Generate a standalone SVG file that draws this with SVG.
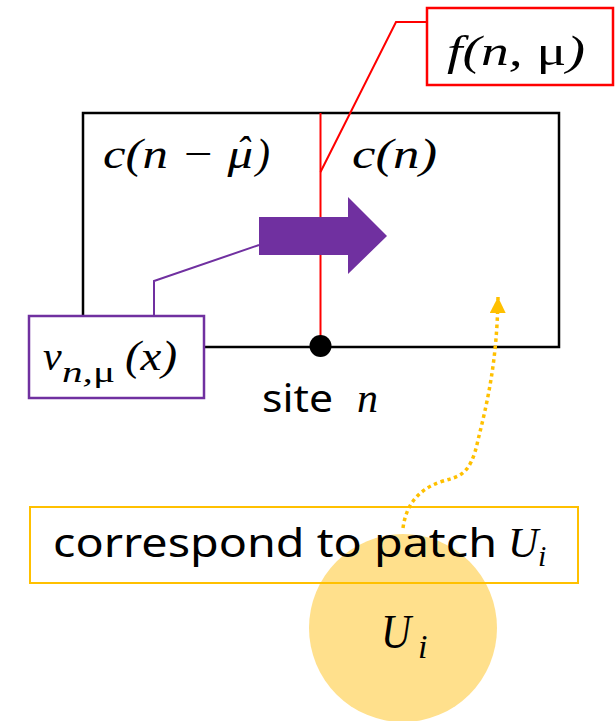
<svg xmlns="http://www.w3.org/2000/svg" width="616" height="721" viewBox="0 0 616 721">
<style>
.m{font-family:"Liberation Serif","DejaVu Serif",serif;font-style:italic;fill:#000}
.u{font-style:normal}
.s{font-family:"Noto Sans","Liberation Sans",sans-serif;fill:#000}
</style>
<defs>
<marker id="ah" viewBox="0 0 10 10" refX="10" refY="5" markerWidth="16" markerHeight="16" markerUnits="userSpaceOnUse" orient="auto">
<path d="M0,0 L10,5 L0,10 Z" fill="#FFC000"/>
</marker>
</defs>
<circle id="patch" cx="403" cy="628" r="94" fill="#FFE08C"/>
<g id="cell">
<rect x="83" y="113" width="476" height="234" fill="none" stroke="#000" stroke-width="2.5"/>
<text class="m" font-size="42"><tspan x="103" y="168" textLength="150" lengthAdjust="spacingAndGlyphs">c(n − μ</tspan><tspan x="243" y="164" font-size="40" text-anchor="middle">ˆ</tspan><tspan x="256" y="168">)</tspan></text>
<text class="m" x="352" y="168" font-size="42" textLength="85" lengthAdjust="spacingAndGlyphs">c(n)</text>
</g>
<g id="connectors">
<line x1="320.5" y1="113" x2="320.5" y2="347" stroke="#FF0000" stroke-width="2"/>
<polyline points="320.5,172 396,22 427,22" fill="none" stroke="#FF0000" stroke-width="2"/>
<polyline points="259,245 154,281 154,316" fill="none" stroke="#7030A0" stroke-width="2"/>
<path d="M403,528 C406,505 418,490 440,482 C458,476 470,478 478,440 C488,400 497,360 498,297" fill="none" stroke="#FFC000" stroke-width="3.5" stroke-dasharray="3.5 3.5" marker-end="url(#ah)"/>
</g>
<g id="flow">
<path d="M259,217 L348,217 L348,197 L387,236 L348,274 L348,255 L259,255 Z" fill="#7030A0"/>
</g>
<g id="site">
<circle cx="320.5" cy="346" r="11" fill="#000"/>
<text class="s" font-size="38"><tspan x="262" y="412" textLength="71" lengthAdjust="spacingAndGlyphs">site</tspan><tspan class="m" x="357" y="412" font-size="42">n</tspan></text>
</g>
<g id="flux">
<rect x="427" y="8" width="186" height="77" fill="#fff" stroke="#FF0000" stroke-width="2.5"/>
<text class="m" x="447" y="65" font-size="42" textLength="138" lengthAdjust="spacingAndGlyphs">f(n, <tspan class="u">μ</tspan>)</text>
</g>
<g id="velocity">
<rect x="29" y="316" width="175" height="82" fill="#fff" stroke="#7030A0" stroke-width="2.5"/>
<text class="m" font-size="42"><tspan x="43" y="370">v</tspan><tspan x="62" y="382" font-size="30" textLength="53" lengthAdjust="spacingAndGlyphs">n,<tspan class="u">μ</tspan></tspan><tspan x="125" y="370" textLength="52" lengthAdjust="spacingAndGlyphs">(x)</tspan></text>
</g>
<g id="label">
<rect x="30" y="507" width="548" height="76" fill="none" stroke="#FFC000" stroke-width="2"/>
<text class="s" font-size="40"><tspan x="53" y="557" textLength="444" lengthAdjust="spacingAndGlyphs">correspond to patch</tspan><tspan class="m" x="508" y="557" font-size="42">U</tspan><tspan class="m" x="538" y="566" font-size="30">i</tspan></text>
</g>
<g id="patch-label">
<text class="m" font-size="48"><tspan x="381" y="648" textLength="30" lengthAdjust="spacingAndGlyphs">U</tspan><tspan x="418" y="658" font-size="34">i</tspan></text>
</g>
</svg>
